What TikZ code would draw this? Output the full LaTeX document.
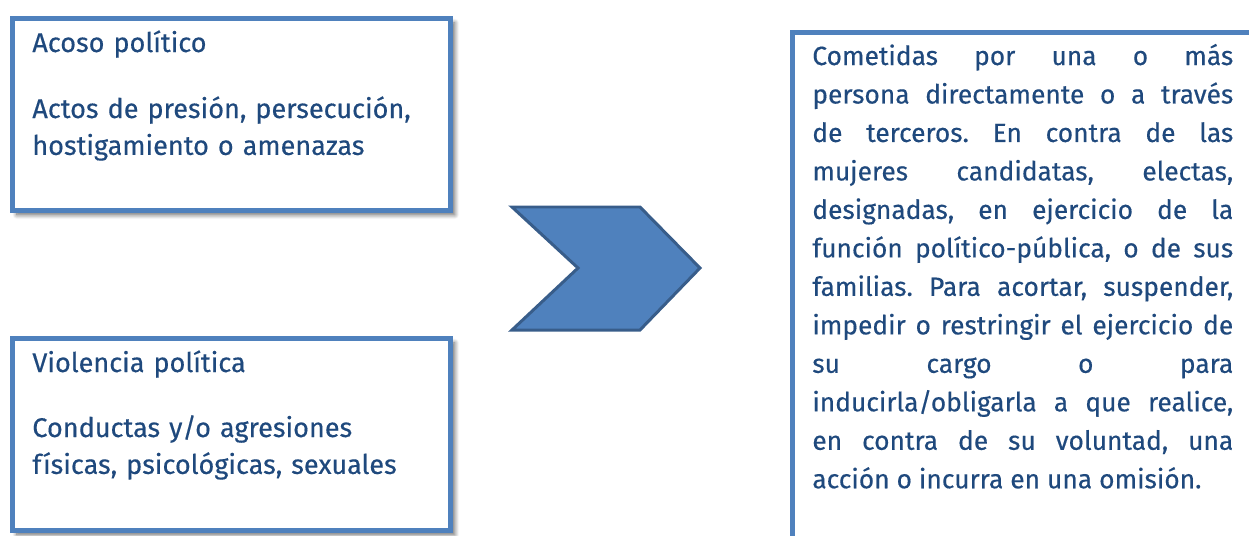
\documentclass[tikz,border=0pt]{standalone}
\usepackage{fontspec}
\setmainfont{Fira Sans}[FakeBold=0.35]
\usetikzlibrary{shadows.blur}
\definecolor{boxblue}{HTML}{4F81BD}
\definecolor{chevdark}{HTML}{385D8A}
\definecolor{textblue}{HTML}{1F497D}
\frenchspacing
\tikzset{
  framebox/.style={draw=boxblue, line width=2.8pt, fill=white, anchor=north west, inner sep=0pt,
    blur shadow={shadow xshift=2.5pt, shadow yshift=-2.5pt, shadow blur radius=2.5pt, shadow blur steps=8, shadow opacity=60}},
  boxtext/.style={anchor=base west, inner sep=0pt, text=textblue, align=left, text width=8cm,
    font=\fontsize{15.4}{21}\selectfont},
  chevron/.style={fill=boxblue, draw=chevdark, line width=1.7pt, line join=miter},
}
\begin{document}
\begin{tikzpicture}[x=0.02cm, y=-0.02cm]
    \useasboundingbox (0, 0) rectangle (1249, 535);
    \clip (0, 0) rectangle (1249, 535);

    % left column
    \node[framebox, minimum width=8.76cm, minimum height=3.84cm] (acoso) at (10, 16) {};
    \node[framebox, minimum width=8.76cm, minimum height=3.84cm] (violencia) at (10, 336) {};
    \node[boxtext] (acosotit) at (32, 52) {Acoso político};
    \node[boxtext] (acosotxt) at (32, 118) {Actos de presión, persecución,\\hostigamiento o amenazas};
    \node[boxtext] (violtit) at (32, 372) {Violencia política};
    \node[boxtext] (violtxt) at (32, 437) {Conductas y/o agresiones\\físicas, psicológicas, sexuales};

    % chevron
    \draw[chevron] (512, 207) -- (640, 207) -- (700, 268) -- (640, 330) -- (512, 330) -- (578, 268) -- cycle;

    % right column
    \node[framebox, minimum width=9.4cm, minimum height=11.2cm] (cometidas) at (790, 30) {};
    \node[boxtext, align=justify, text width=8.42cm, font=\fontsize{15}{21.9}\selectfont] (comettxt) at (812, 65)
      {Cometidas por una o más\linebreak
       persona directamente o a través\linebreak
       de terceros. En contra de las\linebreak
       mujeres candidatas, electas,\linebreak
       designadas, en ejercicio de la\linebreak
       función político-pública, o de sus\linebreak
       familias. Para acortar, suspender,\linebreak
       impedir o restringir el ejercicio de\linebreak
       su cargo o para\linebreak
       inducirla/obligarla a que realice,\linebreak
       en contra de su voluntad, una\linebreak
       acción o incurra en una omisión.};
\end{tikzpicture}
\end{document}
